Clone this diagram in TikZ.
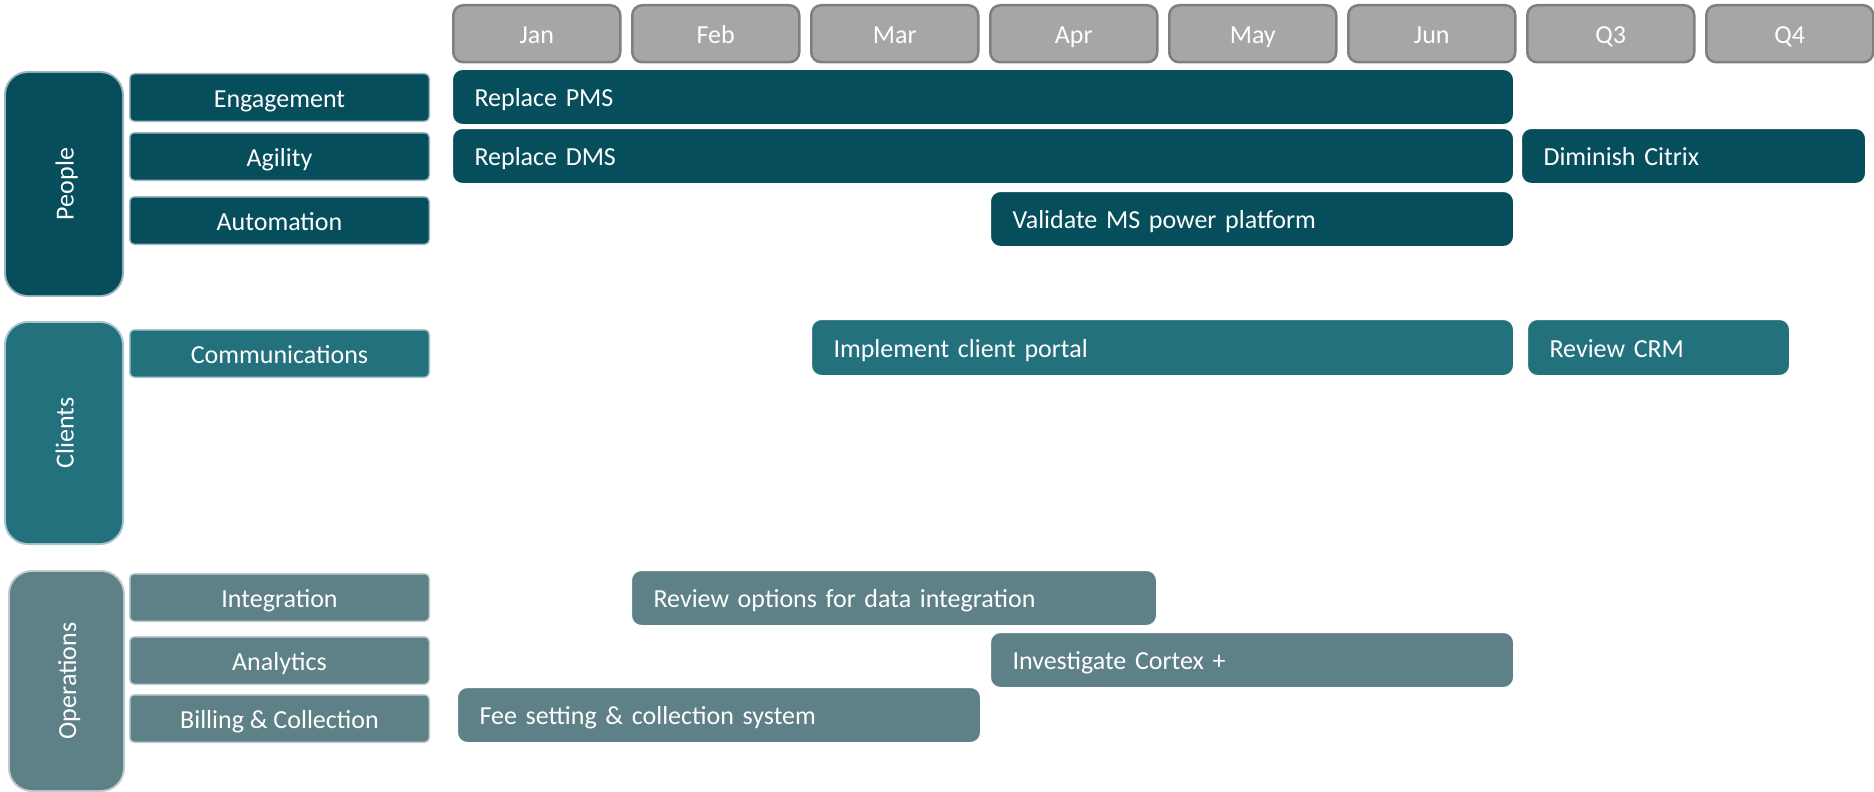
\documentclass[tikz,border=0pt]{standalone}
\usepackage{fontspec}
\setmainfont{Carlito}

\definecolor{people}{HTML}{064E5B}
\definecolor{clients}{HTML}{24717E}
\definecolor{operations}{HTML}{5E8087}
\definecolor{monthgrey}{HTML}{A6A6A6}
\definecolor{monthline}{HTML}{7F7F7F}

\tikzset{
    every node/.style={font=\fontsize{26}{31}\selectfont, text=white, text height=20pt, text depth=1pt, inner sep=0pt},
    month/.style={anchor=north west, fill=monthgrey, draw=monthline, line width=2.5pt, rounded corners=10pt, minimum width=167pt, minimum height=57pt},
    group/.style={rotate=90, fill=#1, draw=#1, draw opacity=0.4, line width=4pt, rounded corners=22pt, minimum height=116pt},
    topic/.style={anchor=north west, fill=#1, draw=#1, draw opacity=0.4, line width=3pt, rounded corners=4pt, minimum width=298pt, minimum height=46pt},
    task/.style={anchor=north west, fill=#1, draw=white, line width=1pt, rounded corners=10pt, minimum height=55pt, inner xsep=22pt, align=left}
}

\begin{document}
\begin{tikzpicture}[x=1pt, y=-1pt]
    \useasboundingbox (0,0) rectangle (1874,792);

    % months along the top
    \node[month] (jan) at (452,4) {Jan};
    \node[month] (feb) at (631,4) {Feb};
    \node[month] (mar) at (810,4) {Mar};
    \node[month] (apr) at (989,4) {Apr};
    \node[month] (may) at (1168,4) {May};
    \node[month] (jun) at (1347,4) {Jun};
    \node[month] (q3) at (1526,4) {Q3};
    \node[month] (q4) at (1705,4) {Q4};

    % people
    \node[group=people, minimum width=222pt] (peoplebox) at (64,184) {People};
    \node[topic=people] (engagement) at (129,73) {Engagement};
    \node[topic=people] (agility) at (129,132) {Agility};
    \node[topic=people] (automation) at (129,196) {Automation};
    \node[task=people, text width=1017pt] (pms) at (452,69) {Replace PMS};
    \node[task=people, text width=1017pt] (dms) at (452,128) {Replace DMS};
    \node[task=people, text width=300pt] (citrix) at (1521,128) {Diminish Citrix};
    \node[task=people, text width=479pt] (msplatform) at (990,191) {Validate MS power platform};

    % clients
    \node[group=clients, minimum width=220pt] (clientsbox) at (64,433) {Clients};
    \node[topic=clients] (communications) at (129,329) {Communications};
    \node[task=clients, text width=658pt, minimum height=56pt] (portal) at (811,319) {Implement client portal};
    \node[task=clients, text width=218pt, minimum height=56pt] (crm) at (1527,319) {Review CRM};

    % operations
    \node[group=operations, minimum width=218pt, minimum height=113pt] (opsbox) at (66.5,681) {Operations};
    \node[topic=operations] (integration) at (129,573) {Integration};
    \node[topic=operations] (analytics) at (129,636) {Analytics};
    \node[topic=operations] (billing) at (129,694) {Billing \& Collection};
    \node[task=operations, text width=481pt] (dataint) at (631,570) {Review options for data integration};
    \node[task=operations, text width=479pt] (cortex) at (990,632) {Investigate Cortex +};
    \node[task=operations, text width=479pt] (fees) at (457,687) {Fee setting \& collection system};
\end{tikzpicture}
\end{document}
